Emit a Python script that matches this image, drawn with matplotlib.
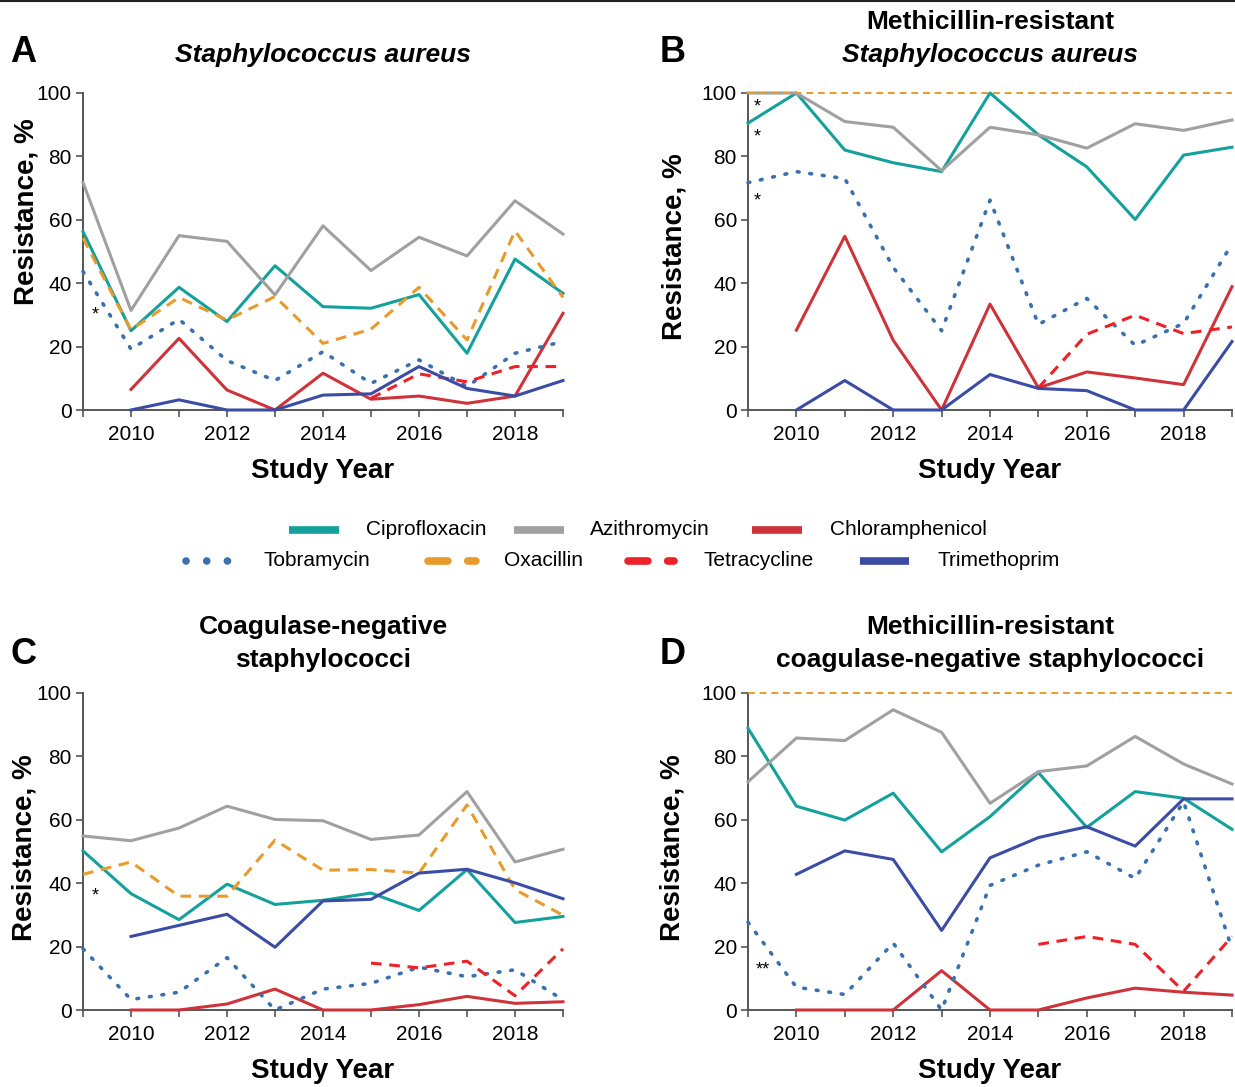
import matplotlib
matplotlib.use("Agg")
import matplotlib.pyplot as plt
from matplotlib.lines import Line2D
import numpy as np

FAM = ['Liberation Sans', 'DejaVu Sans']
plt.rcParams['font.family'] = FAM

years = list(range(2009, 2020))
N = None

# Panel A: Staphylococcus aureus
A_cipro = [56.3, 25.0, 38.7, 27.9, 45.5, 32.6, 32.1, 36.4, 17.9, 47.6, 36.8]
A_azi   = [71.8, 31.4, 55.0, 53.2, 36.3, 58.1, 44.0, 54.5, 48.6, 66.0, 55.5]
A_chlor = [N, 6.5, 22.6, 6.3, 0.0, 11.6, 3.4, 4.4, 2.1, 4.4, 30.5]
A_tobra = [43.7, 19.2, 28.6, 15.6, 9.3, 18.4, 8.4, 15.8, 7.4, 17.9, 21.6]
A_oxa   = [54.2, 25.3, 35.5, 28.4, 35.8, 21.0, 25.5, 38.7, 22.1, 56.5, 35.5]
A_tetra = [N, N, N, N, N, N, 3.7, 11.4, 8.9, 13.7, 13.7]
A_tmp   = [N, 0.0, 3.2, 0.0, 0.0, 4.7, 5.1, 13.7, 6.8, 4.4, 9.3]

# Panel B: MRSA
B_cipro = [90.5, 100.0, 82.0, 78.0, 75.2, 100.0, 86.8, 76.7, 60.1, 80.4, 82.9]
B_azi   = [100.0, 100.0, 91.0, 89.2, 75.5, 89.2, 86.8, 82.6, 90.3, 88.2, 91.5]
B_chlor = [N, 25.2, 54.8, 22.0, 0.0, 33.4, 7.0, 12.0, 10.1, 8.0, 38.9]
B_tobra = [71.7, 75.2, 73.0, 45.0, 25.0, 66.2, 27.0, 35.2, 20.4, 27.3, 52.4]
B_oxa   = [100.0] * 11
B_tetra = [N, N, N, N, N, N, 7.0, 23.9, 29.9, 24.1, 26.2]
B_tmp   = [N, 0.0, 9.3, 0.0, 0.0, 11.2, 6.8, 6.1, 0.0, 0.0, 21.6]

# Panel C: CoNS
C_cipro = [50.2, 36.7, 28.5, 39.7, 33.3, 34.6, 36.9, 31.4, 44.3, 27.6, 29.5]
C_azi   = [54.9, 53.4, 57.4, 64.3, 60.1, 59.7, 53.8, 55.2, 68.9, 46.7, 50.7]
C_chlor = [N, 0.0, 0.0, 1.9, 6.6, 0.0, 0.0, 1.7, 4.3, 2.1, 2.6]
C_tobra = [19.3, 3.3, 5.6, 16.5, 0.0, 6.6, 8.4, 13.5, 10.5, 12.7, 3.2]
C_oxa   = [42.8, 46.7, 35.9, 35.9, 53.6, 44.1, 44.3, 43.2, 64.7, 38.0, 29.9]
C_tetra = [N, N, N, N, N, N, 14.8, 13.3, 15.4, 4.5, 19.3]
C_tmp   = [N, 23.2, 26.7, 30.2, 19.8, 34.4, 34.9, 43.2, 44.4, 40.1, 35.1]

# Panel D: MRCoNS
D_cipro = [88.9, 64.3, 59.9, 68.4, 49.9, 61.0, 74.9, 57.6, 68.9, 66.8, 57.0]
D_azi   = [72.0, 85.8, 85.0, 94.7, 87.6, 65.2, 75.2, 77.0, 86.3, 77.6, 71.3]
D_chlor = [N, 0.0, 0.0, 0.0, 12.4, 0.0, 0.0, 3.8, 6.9, 5.6, 4.7]
D_tobra = [27.7, 7.2, 4.9, 21.1, 0.0, 39.3, 45.7, 49.9, 41.5, 65.7, 19.3]
D_oxa   = [100.0] * 11
D_tetra = [N, N, N, N, N, N, 20.7, 23.2, 20.7, 5.9, 23.2]
D_tmp   = [N, 42.8, 50.2, 47.5, 25.1, 48.0, 54.4, 57.8, 51.7, 66.6, 66.6]

drugs = ["Ciprofloxacin", "Azithromycin", "Chloramphenicol", "Tobramycin",
         "Oxacillin", "Tetracycline", "Trimethoprim"]

panels = {
    "A": [A_cipro, A_azi, A_chlor, A_tobra, A_oxa, A_tetra, A_tmp],
    "B": [B_cipro, B_azi, B_chlor, B_tobra, B_oxa, B_tetra, B_tmp],
    "C": [C_cipro, C_azi, C_chlor, C_tobra, C_oxa, C_tetra, C_tmp],
    "D": [D_cipro, D_azi, D_chlor, D_tobra, D_oxa, D_tetra, D_tmp],
}

# asterisk annotations (x, y, text)
stars = {
    "A": [(2009.25, 30.0, "*")],
    "B": [(2009.2, 95.5, "*"), (2009.2, 86.0, "*"), (2009.2, 66.0, "*")],
    "C": [(2009.25, 36.0, "*")],
    "D": [(2009.3, 12.5, "**")],
}

styles = {
    "Ciprofloxacin":   dict(color="#14a09b", ls="-", lw=2.2),
    "Azithromycin":    dict(color="#a0a0a0", ls="-", lw=2.2),
    "Chloramphenicol": dict(color="#cf333a", ls="-", lw=2.2),
    "Tobramycin":      dict(color="#3a70ae", ls=(0, (0.5, 3.0)), lw=2.6, dash_capstyle="round"),
    "Oxacillin":       dict(color="#e89b2c", ls=(0, (3.5, 2.5)), lw=2.2),
    "Tetracycline":    dict(color="#ee2028", ls=(0, (3.5, 2.5)), lw=2.2),
    "Trimethoprim":    dict(color="#3b4ca4", ls="-", lw=2.2),
}

W, H = 1235, 1087
fig = plt.figure(figsize=(W / 100, H / 100), dpi=100)

def box(x0, y0, x1, y1):
    return [x0 / W, 1 - y1 / H, (x1 - x0) / W, (y1 - y0) / H]

axes_pos = {
    "A": box(83, 93, 563, 410),
    "B": box(748, 93, 1232, 410),
    "C": box(83, 693, 563, 1010),
    "D": box(748, 693, 1232, 1010),
}

# y-label centres in pixels
ylabel_pos = {"A": (27, 212), "B": (674, 247), "C": (25, 848), "D": (672, 848)}

titles = {
    "A": [("Staphylococcus aureus", "italic")],
    "B": [("Methicillin-resistant", "normal"), ("Staphylococcus aureus", "italic")],
    "C": [("Coagulase-negative", "normal"), ("staphylococci", "normal")],
    "D": [("Methicillin-resistant", "normal"), ("coagulase-negative staphylococci", "normal")],
}

spine_col = "#555555"
for key, pos in axes_pos.items():
    ax = fig.add_axes(pos)
    series = panels[key]
    for name, vals in zip(drugs, series):
        st = styles[name]
        y = np.array([np.nan if v is None else v for v in vals], dtype=float)
        lw = st["lw"]
        if name == "Oxacillin" and key in ("B", "D"):
            lw = 1.4
        kw = dict(color=st["color"], linestyle=st["ls"], linewidth=lw, clip_on=False)
        if "dash_capstyle" in st:
            kw["dash_capstyle"] = st["dash_capstyle"]
        ax.plot(years, y, **kw, zorder=3)
    for (sx, sy, stx) in stars[key]:
        ax.text(sx, sy, stx, fontsize=13, ha="center", va="center")
    ax.set_xlim(2009, 2019)
    ax.set_ylim(0, 100)
    ax.set_xticks(years)
    ax.set_xticklabels([str(y) if y % 2 == 0 else "" for y in years])
    ax.set_yticks([0, 20, 40, 60, 80, 100])
    ax.tick_params(axis="both", labelsize=15, length=5, width=1.2, color=spine_col,
                   direction="out", pad=3)
    ax.tick_params(axis="x", pad=6)
    for s in ["top", "right"]:
        ax.spines[s].set_visible(False)
    for s in ["left", "bottom"]:
        ax.spines[s].set_color(spine_col)
        ax.spines[s].set_linewidth(1.4)
    ax.set_xlabel("Study Year", fontsize=20, fontweight="bold", labelpad=10)
    lx, ly = ylabel_pos[key]
    fig.text(lx / W, 1 - ly / H, "Resistance, %", fontsize=20, fontweight="bold",
             rotation=90, ha="center", va="center")
    cx = (pos[0] + pos[2] / 2)
    lines = titles[key]
    top_px = 55 if key in ("A", "B") else 660
    n = len(lines)
    for i, (txt, style) in enumerate(lines):
        ypx = top_px - (n - 1 - i) * 33
        fig.text(cx, 1 - ypx / H, txt, fontsize=19, fontweight="bold", style=style,
                 ha="center", va="center")

letters = {"A": (10, 52), "B": (660, 52), "C": (10, 655), "D": (660, 655)}
for k, (lx, ly) in letters.items():
    fig.text(lx / W, 1 - ly / H, k, fontsize=26, fontweight="bold", ha="left", va="center")

# top border line
fig.add_artist(Line2D([0, 1], [1 - 1 / H, 1 - 1 / H], color="#222222", lw=1.5,
                      transform=fig.transFigure))

# Legend, laid out entry by entry: (name, handle x0, handle x1, text x, row y) in pixels
legend_layout = [
    ("Ciprofloxacin", 289, 339, 366, 530),
    ("Azithromycin", 514, 564, 590, 530),
    ("Chloramphenicol", 752, 802, 830, 530),
    ("Tobramycin", 186, 229, 263, 561),
    ("Oxacillin", 428, 476, 504, 561),
    ("Tetracycline", 628, 674, 703, 561),
    ("Trimethoprim", 860, 909, 937, 561),
]
for name, hx0, hx1, tx, ry in legend_layout:
    st = styles[name]
    yy = 1 - ry / H
    if name == "Tobramycin":
        ls = (0, (0.01, 2.7))
        cap = "round"
        lw = 5.5
    elif name in ("Oxacillin", "Tetracycline"):
        ls = (0, (2.6, 2.6))
        cap = "round"
        lw = 5.5
    else:
        ls = "-"
        cap = "butt"
        lw = 5.5
    fig.add_artist(Line2D([hx0 / W, hx1 / W], [yy, yy], color=st["color"], lw=lw,
                          linestyle=ls, dash_capstyle=cap, solid_capstyle="butt",
                          transform=fig.transFigure))
    fig.text(tx / W, yy, name, fontsize=15, ha="left", va="center")

fig.savefig("out.png", dpi=100)
